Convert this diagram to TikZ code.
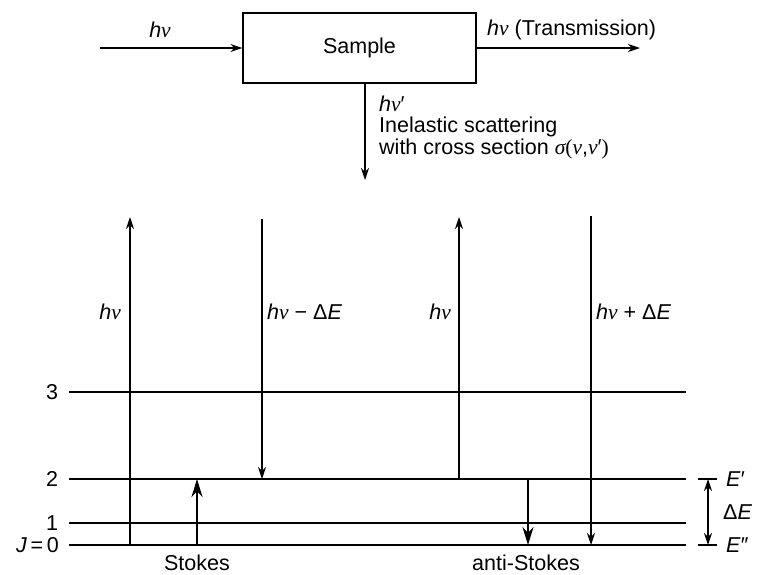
\documentclass[tikz,border=0pt]{standalone}
\usepackage{fontspec}
\setmainfont{Liberation Sans}
\newfontfamily\grkfont{Liberation Serif}
\usetikzlibrary{arrows.meta}
\newcommand\hnu{\textit{h}{\grkfont\itshape ν}}
\newcommand\gnu{{\grkfont\itshape ν}}
\tikzset{
  thin line/.style={line width=1.2pt},
  level/.style={line width=2.3pt},
  thinarrow/.style={thin line,-{Stealth[length=12pt,width=8pt]}},
  thickarrow/.style={line width=2.2pt,-{Stealth[length=18pt,width=11pt]}},
  lbl/.style={inner sep=0pt,font=\fontsize{21.5}{23}\selectfont},
}
\begin{document}
\begin{tikzpicture}[x=1pt,y=-1pt]
\useasboundingbox (0,0) rectangle (757,574);
% top part
\node[draw,thin line,minimum width=233pt,minimum height=70pt,inner sep=0pt,font=\fontsize{21.5}{23}\selectfont] (sample) at (359.5,48) {Sample};
\coordinate (in) at (100,48);
\coordinate (out) at (640,48);
\coordinate (scat) at (365,180);
\draw[thinarrow] (in) -- (sample.west);
\draw[thinarrow] (sample.east) -- (out);
\draw[thinarrow] (sample.south -| scat) -- (scat);
\node[lbl] (hnuin) at (160,30) {\hnu};
\node[lbl,anchor=west] (trans) at (487,30) {\hnu\ (Transmission)};
\node[lbl,anchor=west,align=left] (inel) at (379,127) {\hnu′\\[-1.5pt]Inelastic scattering\\[-1.5pt]with cross section {\grkfont\itshape σ}{\grkfont(}\gnu,\gnu′{\grkfont)}};
% levels
\coordinate (L3a) at (69,392); \coordinate (L3b) at (686,392);
\coordinate (L2a) at (69,479); \coordinate (L2b) at (686,479);
\coordinate (L1a) at (69,523); \coordinate (L1b) at (686,523);
\coordinate (L0a) at (69,545); \coordinate (L0b) at (686,545);
\draw[level] (L3a) -- (L3b);
\draw[level] (L2a) -- (L2b);
\draw[level] (L1a) -- (L1b);
\draw[level] (L0a) -- (L0b);
\node[lbl] (n3) at (52,392) {3};
\node[lbl] (n2) at (52,479) {2};
\node[lbl] (n1) at (52,523) {1};
\node[lbl,anchor=east] (n0) at (59,545) {\textit{J}\,=\,0};
% transitions
\coordinate (a1b) at (130,545); \coordinate (a1t) at (130,217);
\coordinate (a2t) at (262,219); \coordinate (a2b) at (262,479);
\coordinate (a3b) at (459,479); \coordinate (a3t) at (459,217);
\coordinate (a4t) at (591,216); \coordinate (a4b) at (591,545);
\draw[thinarrow] (a1b) -- (a1t);
\draw[thinarrow] (a2t) -- (a2b);
\draw[thinarrow] (a3b) -- (a3t);
\draw[thinarrow] (a4t) -- (a4b);
\node[lbl,anchor=east] (l1) at (121,312) {\hnu};
\node[lbl,anchor=west] (l2) at (267,312) {\hnu\ − Δ\textit{E}};
\node[lbl,anchor=east] (l3) at (451,312) {\hnu};
\node[lbl,anchor=west] (l4) at (596,312) {\hnu\ + Δ\textit{E}};
\coordinate (sb) at (197,545); \coordinate (st) at (197,479);
\coordinate (asT) at (528,479); \coordinate (asB) at (528,545);
\draw[thickarrow] (sb) -- (st);
\draw[thickarrow] (asT) -- (asB);
\node[lbl] (stokes) at (197,563) {Stokes};
\node[lbl] (astokes) at (526,563) {anti-Stokes};
% Delta E marker
\coordinate (t1a) at (698,479); \coordinate (t1b) at (717,479);
\coordinate (t0a) at (698,545); \coordinate (t0b) at (717,545);
\draw[thin line] (t1a) -- (t1b);
\draw[thin line] (t0a) -- (t0b);
\draw[thin line,{Stealth[length=12pt,width=8pt]}-{Stealth[length=12pt,width=8pt]}] (708,479) -- (708,545);
\node[lbl,anchor=west] (ep) at (726,479) {\textit{E}′};
\node[lbl,anchor=west] (de) at (723,512) {Δ\textit{E}};
\node[lbl,anchor=west] (epp) at (726,545) {\textit{E}″};
\end{tikzpicture}
\end{document}
